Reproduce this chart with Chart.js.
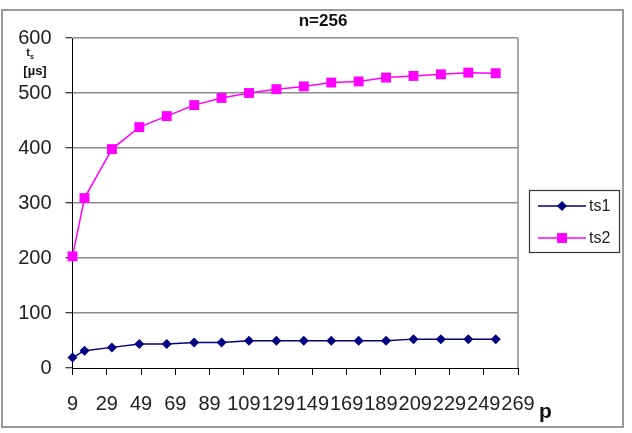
<!DOCTYPE html>
<html>
<head>
<meta charset="utf-8">
<script src="https://cdn.jsdelivr.net/npm/chart.js@4.4.1/dist/chart.umd.min.js"></script>
<style>
  html, body { margin: 0; padding: 0; background: #fff; }
  canvas { display: block; }
</style>
</head>
<body>
<canvas id="chart" width="632" height="433"></canvas>
<script>
// values
var pValues = [9, 16, 32, 48, 64, 80, 96, 112, 128, 144, 160, 176, 192, 208, 224, 240, 256];
var ts1 = [19, 31.5, 37.5, 43.5, 43.5, 46.5, 46.5, 49.5, 49.5, 49.5, 49.5, 49.5, 49.5, 52.5, 52.5, 52.5, 52.5];
var ts2 = [203, 309, 398, 438, 458, 478, 491, 500, 507, 512, 519, 521, 528, 531, 534, 537, 536];
var xTicks = [9, 29, 49, 69, 89, 109, 129, 149, 169, 189, 209, 229, 249, 269];
var yTicks = [0, 100, 200, 300, 400, 500, 600];

function toPoints(ys) {
    return pValues.map(function (p, i) { return { x: p, y: ys[i] }; });
}

var decorations = {
    id: 'decorations',
    afterDraw: function (chart) {
        var ctx = chart.ctx;
        var area = chart.chartArea;
        ctx.save();

        // outer frame
        ctx.strokeStyle = '#9a9a9a';
        ctx.lineWidth = 2;
        ctx.strokeRect(2, 10, 621, 417);

        // right edge of plot area
        ctx.strokeStyle = '#8c8c8c';
        ctx.lineWidth = 1.5;
        ctx.beginPath();
        ctx.moveTo(area.right, area.top);
        ctx.lineTo(area.right, area.bottom);
        ctx.stroke();

        // title
        ctx.fillStyle = '#111';
        ctx.textAlign = 'center';
        ctx.textBaseline = 'middle';
        ctx.font = 'bold 17px "Liberation Sans", Arial, sans-serif';
        ctx.fillText('n=256', 323, 21);

        // y axis title
        ctx.font = 'bold 11px "Liberation Sans", Arial, sans-serif';
        ctx.fillText('t', 28, 53);
        ctx.font = 'bold 7px "Liberation Sans", Arial, sans-serif';
        ctx.fillText('s', 32, 57);
        ctx.font = 'bold 13px "Liberation Sans", Arial, sans-serif';
        ctx.fillText('[µs]', 35, 71);

        // x axis title
        ctx.textAlign = 'left';
        ctx.textBaseline = 'alphabetic';
        ctx.font = 'bold 21px "Liberation Sans", Arial, sans-serif';
        ctx.fillText('p', 539, 418);

        // legend
        ctx.strokeStyle = '#333';
        ctx.lineWidth = 1.2;
        ctx.strokeRect(529.5, 190.5, 90, 62);
        chart.data.datasets.forEach(function (ds, i) {
            var y = 206 + i * 32;
            ctx.strokeStyle = ds.borderColor;
            ctx.lineWidth = ds.borderWidth;
            ctx.beginPath();
            ctx.moveTo(538, y);
            ctx.lineTo(586, y);
            ctx.stroke();
            ctx.fillStyle = ds.backgroundColor;
            var r = ds.pointRadius;
            ctx.beginPath();
            if (ds.pointStyle === 'rectRot') {
                ctx.moveTo(562 - r, y);
                ctx.lineTo(562, y - r);
                ctx.lineTo(562 + r, y);
                ctx.lineTo(562, y + r);
                ctx.closePath();
            } else {
                var s = r * Math.SQRT1_2;
                ctx.rect(562 - s, y - s, 2 * s, 2 * s);
            }
            ctx.fill();
            ctx.fillStyle = '#222';
            ctx.textBaseline = 'middle';
            ctx.font = '16px "Liberation Sans", Arial, sans-serif';
            ctx.fillText(ds.label, 589, y + 1);
        });

        ctx.restore();
    }
};

new Chart(document.getElementById('chart'), {
    type: 'line',
    data: {
        datasets: [{
            label: 'ts1',
            data: toPoints(ts1),
            borderColor: '#000080',
            backgroundColor: '#000080',
            borderWidth: 1.5,
            pointStyle: 'rectRot',
            pointRadius: 5,
            pointBorderWidth: 0,
            tension: 0,
            clip: false,
        }, {
            label: 'ts2',
            data: toPoints(ts2),
            borderColor: '#ff00ff',
            backgroundColor: '#ff00ff',
            borderWidth: 1.5,
            pointStyle: 'rect',
            pointRadius: 7,
            pointBorderWidth: 0,
            tension: 0,
            clip: false,
        }],
    },
    options: {
        responsive: false,
        animation: false,
        events: [],
        layout: { padding: { left: 0, top: 38, right: 114, bottom: 0 } },
        plugins: {
            legend: { display: false },
            title: { display: false },
            tooltip: { enabled: false },
        },
        scales: {
            x: {
                type: 'linear',
                min: 9,
                max: 269,
                afterBuildTicks: function (scale) {
                    scale.ticks = xTicks.map(function (v) { return { value: v }; });
                },
                afterFit: function (scale) { scale.height = 65; },
                grid: {
                    drawOnChartArea: false,
                    drawTicks: true,
                    tickLength: 7,
                    tickColor: '#000',
                    tickWidth: 1,
                },
                border: { color: '#000', width: 1 },
                ticks: {
                    autoSkip: false,
                    maxRotation: 0,
                    padding: 17,
                    color: '#222',
                    font: { family: '"Liberation Sans", Arial, sans-serif', size: 20 },
                },
            },
            y: {
                min: 0,
                max: 600,
                afterBuildTicks: function (scale) {
                    scale.ticks = yTicks.map(function (v) { return { value: v }; });
                },
                afterFit: function (scale) { scale.width = 72.5; },
                grid: {
                    color: function (c) { return c.tick && c.tick.value === 0 ? 'rgba(0,0,0,0)' : '#8c8c8c'; },
                    lineWidth: 1.5,
                    drawTicks: true,
                    tickLength: 7,
                    tickColor: '#000',
                    tickWidth: 1,
                },
                border: { color: '#000', width: 1 },
                ticks: {
                    padding: 14,
                    color: '#222',
                    font: { family: '"Liberation Sans", Arial, sans-serif', size: 20 },
                },
            },
        },
    },
    plugins: [decorations],
});
</script>
</body>
</html>
